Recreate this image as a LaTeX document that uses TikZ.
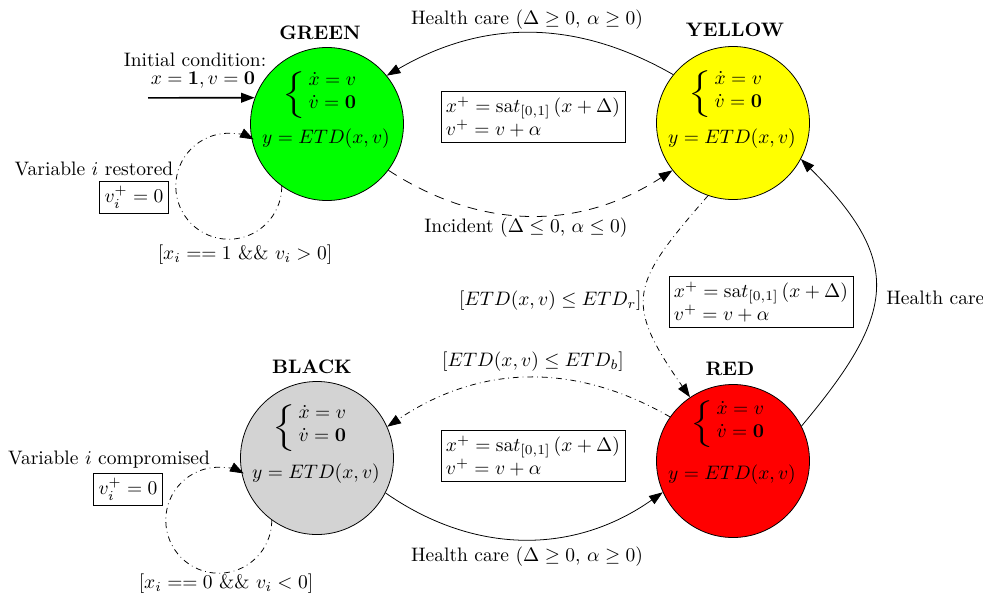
\documentclass[tikz,border=0pt]{standalone}
\usepackage{amsmath}
\usepackage{graphicx}
\usetikzlibrary{arrows.meta}
\definecolor{bgray}{RGB}{211,211,211}
\definecolor{sgreen}{RGB}{0,255,0}
\definecolor{syellow}{RGB}{255,255,0}
\definecolor{sred}{RGB}{255,0,0}
\newcommand{\sysbrace}{\raisebox{-1.5pt}{\scalebox{1.6}[1.0]{$\biggl\{$}}\,$\begin{array}{@{}l@{}}\dot{x}=v\\ \dot{v}=\mathbf{0}\end{array}$}
\newcommand{\updtext}{$x^{+}=\mathrm{sa}t_{[0,1]}\left(x+\Delta\right)$\\$v^{+}=v+\alpha$}
\begin{document}
\begin{tikzpicture}[x=0.513pt,y=-0.513pt,
  state/.style={circle,draw,line width=0.4pt,minimum size=78.5pt,inner sep=0pt},
  inner/.style={inner sep=0pt},
  ttl/.style={font=\bfseries},
  upd/.style={draw,align=left,inner sep=2.5pt},
  arr/.style={-{Triangle[length=7pt,width=5pt]}},
  ddot/.style={dash pattern=on 3pt off 2pt on 0.4pt off 2pt},
  ldash/.style={dash pattern=on 5pt off 4pt}]
\useasboundingbox (0,0) rectangle (983,596);
% states
\node[state,fill=sgreen] (g) at (327,124) {};
\node[inner] (gs) at (319,94) {\sysbrace};
\node[inner] (ge) at (326,139) {$y=ETD(x,v)$};
\node[ttl] (gt) at (320,33) {GREEN};
\node[state,fill=syellow] (y) at (733,123) {};
\node[inner] (ys) at (725,93) {\sysbrace};
\node[inner] (ye) at (732,139) {$y=ETD(x,v)$};
\node[ttl] (yt) at (735,30) {YELLOW};
\node[state,fill=sred] (r) at (733,461) {};
\node[inner] (rs) at (727,423) {\sysbrace};
\node[inner] (re) at (732,475) {$y=ETD(x,v)$};
\node[ttl] (rt) at (730,369) {RED};
\node[state,fill=bgray] (b) at (317,458) {};
\node[inner] (bs) at (309,427) {\sysbrace};
\node[inner] (be) at (316,474) {$y=ETD(x,v)$};
\node[ttl] (bt) at (312,367) {BLACK};
% update boxes
\node[upd] (u1) at (533,117) {\updtext};
\node[upd] (u2) at (761,302) {\updtext};
\node[upd] (u3) at (533,456) {\updtext};
% initial condition
\coordinate (init) at (148,97.8);
\node (ic1) at (195,60) {Initial condition:};
\node (ic2) at (203,80) {$x=\mathbf{1},v=\mathbf{0}$};
\draw[arr,line width=0.8pt] (init) -- (g.160);
% transitions
\draw[arr] (y.141) to[bend right=30] (g.39);
\node (l1) at (527,20) {Health care ($\Delta\geq 0$, $\alpha\geq 0$)};
\draw[arr,ldash] (g.-37) to[bend right=33] (y.-142);
\node (l2) at (526,228) {Incident ($\Delta\leq 0$, $\alpha\leq 0$)};
\draw[arr,ddot] (y.-109) to[out=-131,in=125,looseness=1.48] (r.124);
\node[anchor=east,inner sep=1pt] (l3) at (644,301) {$[ETD(x,v)\leq ETD_{r}]$};
\draw[arr] (r.27) to[out=50,in=-45,looseness=1.4] (y.-28);
\node[anchor=west,inner sep=1pt] (l4) at (884,298) {Health care};
\draw[arr,ddot] (r.145) to[bend right=32] (b.24);
\node (l5) at (533,362) {$[ETD(x,v)\leq ETD_{b}]$};
\draw[arr] (b.-27) to[bend right=35] (r.-156);
\node (l6) at (527,557) {Health care ($\Delta\geq 0$, $\alpha\geq 0$)};
% self loops
\draw[arr,ddot] (g.-126) arc[start angle=0,end angle=-298,radius=27.2pt];
\node (vr) at (94,169) {Variable $i$ restored};
\node[draw,inner sep=2.5pt] (vrb) at (134,197) {$v_i^{+}=0$};
\node (cr) at (245,255) {$[x_i==1\ \&\&\ v_i>0]$};
\draw[arr,ddot] (b.-126) arc[start angle=0,end angle=-298,radius=27.2pt];
\node (vc) at (109,460) {Variable $i$ compromised};
\node[draw,inner sep=2.5pt] (vcb) at (128,489) {$v_i^{+}=0$};
\node (cc) at (226,584) {$[x_i==0\ \&\&\ v_i<0]$};
\end{tikzpicture}
\end{document}
